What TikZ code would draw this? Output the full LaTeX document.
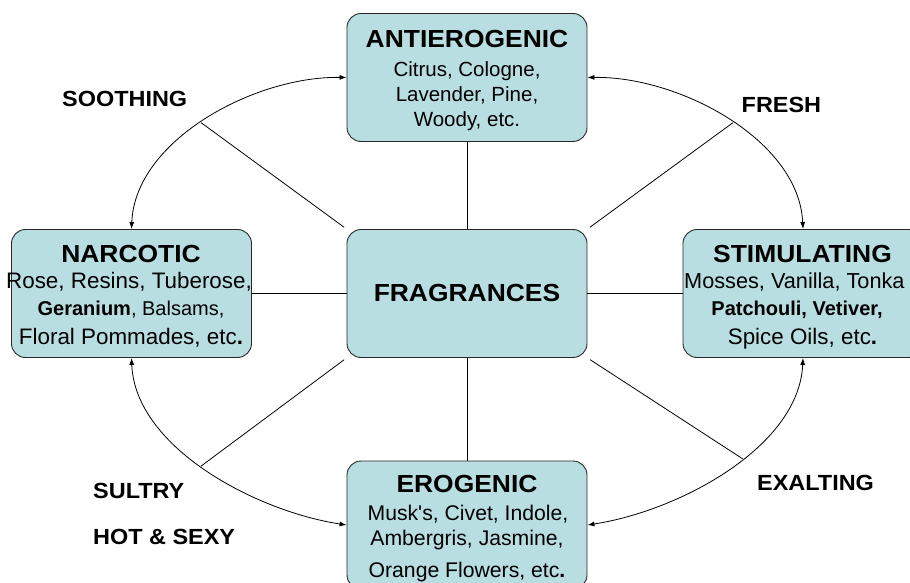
\documentclass[tikz,border=0pt]{standalone}
\usepackage{fontspec}
\setmainfont{Liberation Sans}
\newfontfamily\hdfont{Liberation Sans}[FakeStretch=1.07]
\usetikzlibrary{arrows.meta}
\definecolor{boxfill}{RGB}{184,222,226}
\definecolor{edgecol}{RGB}{40,40,40}
\begin{document}
\begin{tikzpicture}[x=1pt,y=-1pt,
  box/.style={draw=edgecol, line width=0.9pt, fill=boxfill, rounded corners=14pt,
              minimum width=240pt, minimum height=128pt, inner sep=0pt},
  ttl/.style={anchor=base, inner sep=0pt, font=\hdfont\bfseries\fontsize{24.7}{28}\selectfont},
  lbl/.style={anchor=base west, inner sep=0pt, font=\hdfont\bfseries\fontsize{21.9}{26}\selectfont},
  bdy/.style={anchor=base, inner sep=0pt},
  conn/.style={draw=black, line width=0.8pt},
  twoway/.style={draw=black, line width=0.8pt,
                 {Latex[length=7pt,width=5pt]}-{Latex[length=7pt,width=5pt]}},
]
\useasboundingbox (0,0) rectangle (910,583);

% boxes
\node[box] (top) at (467,77.5) {};
\node[box] (ctr) at (467,293.5) {};
\node[box] (lft) at (131.5,293.5) {};
\node[box] (rgt) at (803,293.5) {};
\node[box] (bot) at (467,525) {};

% curved two-way arrows
\draw[twoway] (top.west) .. controls (255,76) and (135,140) .. (lft.north) coordinate[pos=0.52] (tl);
\draw[twoway] (top.east) .. controls (679,76) and (799,140) .. (rgt.north) coordinate[pos=0.52] (tr);
\draw[twoway] (lft.south) .. controls (135,447) and (255,511) .. (bot.west) coordinate[pos=0.48] (bl);
\draw[twoway] (rgt.south) .. controls (799,447) and (679,511) .. (bot.east) coordinate[pos=0.44] (br);

% diagonal spokes
\draw[conn, shorten >=3pt] (tl) -- (ctr.north west);
\draw[conn, shorten >=3pt] (tr) -- (ctr.north east);
\draw[conn, shorten >=3pt] (bl) -- (ctr.south west);
\draw[conn, shorten >=3pt] (br) -- (ctr.south east);

% straight spokes
\draw[conn] (top.south) -- (ctr.north);
\draw[conn] (ctr.south) -- (bot.north);
\draw[conn] (lft.east) -- (ctr.west);
\draw[conn] (ctr.east) -- (rgt.west);

% top box text
\node[ttl] (tA) at (467,48) {ANTIEROGENIC};
\node[bdy, font=\fontsize{20.5}{24}\selectfont] (tA1) at (467,77) {Citrus, Cologne,};
\node[bdy, font=\fontsize{20.5}{24}\selectfont] (tA2) at (467,102) {Lavender, Pine,};
\node[bdy, font=\fontsize{20.5}{24}\selectfont] (tA3) at (467,127) {Woody, etc.};

% center
\node[ttl] (tC) at (467,301) {FRAGRANCES};

% left box text
\node[ttl] (tN) at (131,262) {NARCOTIC};
\node[bdy, font=\fontsize{22.4}{26}\selectfont] (tN1) at (129,288) {Rose, Resins, Tuberose,};
\node[bdy, font=\fontsize{20}{24}\selectfont] (tN2) at (131,315) {\textbf{Geranium}, Balsams,};
\node[bdy, font=\fontsize{22.4}{26}\selectfont] (tN3) at (131,344) {Floral Pommades, etc\textbf{.}};

% right box text
\node[ttl] (tS) at (802.5,262) {STIMULATING};
\node[bdy, anchor=base west, font=\fontsize{21.7}{26}\selectfont] (tS1) at (684,288) {Mosses, Vanilla, Tonka};
\node[bdy, font=\fontsize{20}{24}\selectfont] (tS2) at (797,315) {\textbf{Patchouli, Vetiver,}};
\node[bdy, font=\fontsize{22.4}{26}\selectfont] (tS3) at (802.5,344) {Spice Oils, etc\textbf{.}};

% bottom box text
\node[ttl] (tE) at (467,492) {EROGENIC};
\node[bdy, font=\fontsize{21.2}{25}\selectfont] (tE1) at (468,520) {Musk\textquotesingle s, Civet, Indole,};
\node[bdy, font=\fontsize{21.2}{25}\selectfont] (tE2) at (467,545) {Ambergris, Jasmine,};
\node[bdy, font=\fontsize{21.2}{25}\selectfont] (tE3) at (467,577) {Orange Flowers, etc\textbf{.}};

% outer labels
\node[lbl] (lSooth) at (62,107) {SOOTHING};
\node[lbl] (lFresh) at (741.5,113) {FRESH};
\node[lbl] (lSultry) at (93,498) {SULTRY};
\node[lbl] (lHot) at (93,544) {HOT \& SEXY};
\node[lbl] (lExalt) at (757,490) {EXALTING};
\end{tikzpicture}
\end{document}
